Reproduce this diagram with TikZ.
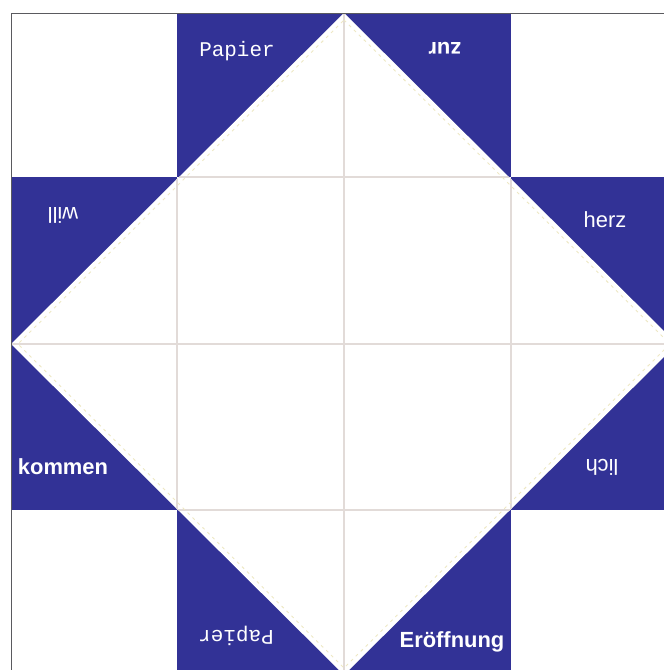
\documentclass[tikz,border=0pt]{standalone}
\usepackage{fontspec}
\setmainfont{Liberation Sans}
\newfontfamily\typefont{Liberation Mono}
\definecolor{foldblue}{RGB}{50,50,150}
\definecolor{foldline}{RGB}{226,219,216}
\definecolor{creasecol}{RGB}{238,232,196}
\definecolor{framecol}{RGB}{90,90,95}
\begin{document}
\begin{tikzpicture}[x=1bp,y=-1bp,
  lbl/.style={text=white,inner sep=0pt,anchor=center,font=\fontsize{22}{26}\selectfont},
  lblb/.style={lbl,font=\fontsize{22}{26}\selectfont\bfseries},
  lblt/.style={lbl,font=\fontsize{21}{25}\selectfont\typefont},
  flip/.style={rotate=180},
  bluepart/.style={fill=foldblue},
  crease/.style={draw=foldline,line width=1.3},
  dotcrease/.style={draw=creasecol,line width=0.9,dash pattern=on 3pt off 4pt},
  frame/.style={draw=framecol,line width=0.9}]
\useasboundingbox (0,0) rectangle (664,670);
\clip (0,0) rectangle (664,670);
\fill[white] (0,0) rectangle (664,670);
% key points
\coordinate (T) at (344,13);
\coordinate (L) at (11,344);
\coordinate (R) at (677,344);
\coordinate (B) at (344,675);
% blue flaps
\path[bluepart] (177,13) rectangle (511,177);
\path[bluepart] (177,510) rectangle (511,675);
\path[bluepart] (11,177) rectangle (177,510);
\path[bluepart] (511,177) rectangle (677,510);
% white diamond
\fill[white] (T) -- (R) -- (B) -- (L) -- cycle;
% creases inside the diamond
\begin{scope}
  \clip (T) -- (R) -- (B) -- (L) -- cycle;
  \path[crease] (177,0) -- (177,680);
  \path[crease] (344,0) -- (344,680);
  \path[crease] (511,0) -- (511,680);
  \path[crease] (0,177) -- (680,177);
  \path[crease] (0,344) -- (680,344);
  \path[crease] (0,510) -- (680,510);
\end{scope}
\path[dotcrease] (344,20) -- (670,344) -- (344,668) -- (18,344) -- cycle;
% frame
\coordinate (F1) at (11,670);
\coordinate (F2) at (11,13);
\coordinate (F3) at (664,13);
\path[frame] (F1) -- (F2) -- (F3);
% labels
\node[lblt] (papiertop) at (237,51) {Papier};
\node[lblb,flip] (zur) at (445,48) {zur};
\node[lbl,flip] (will) at (63,215) {will};
\node[lbl] (herz) at (605,220) {herz};
\node[lblb] (kommen) at (63,467) {kommen};
\node[lbl,flip] (lich) at (602,467) {lich};
\node[lblt,flip] (papierbot) at (236,636) {Papier};
\node[lblb] (eroeffnung) at (452,642) {Eröffnung};
\end{tikzpicture}
\end{document}
